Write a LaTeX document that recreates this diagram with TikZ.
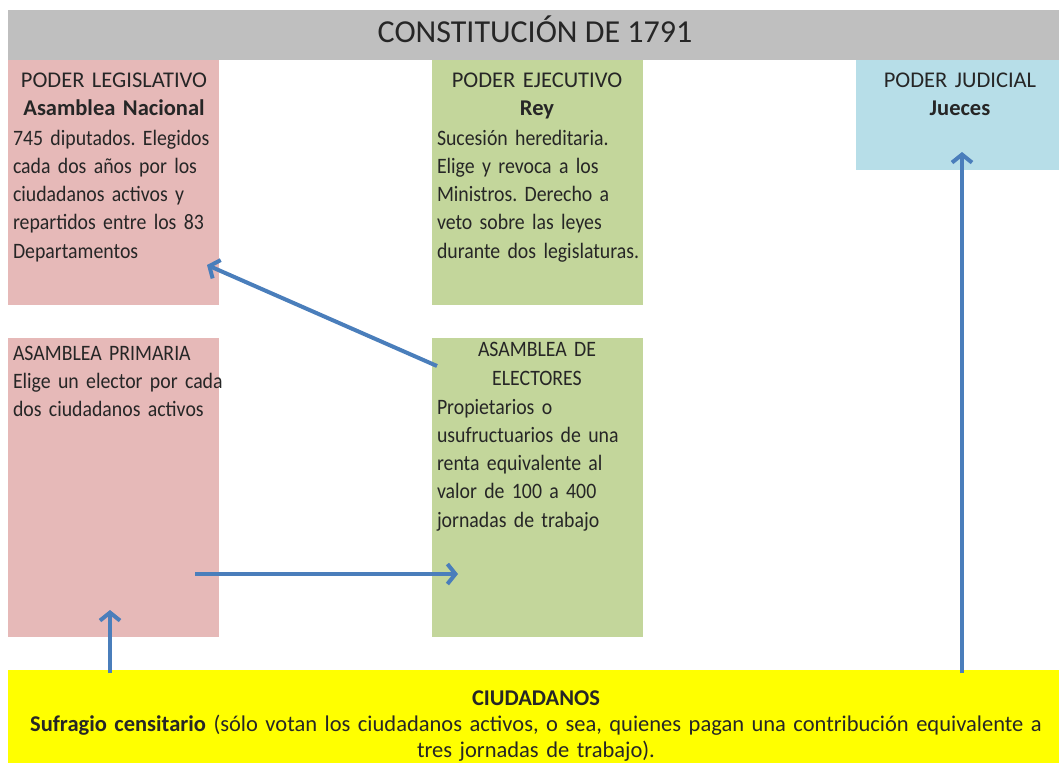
\documentclass[tikz,border=0pt]{standalone}
\usepackage{fontspec}
\setmainfont{Carlito}
\newfontfamily\bodyfont[FakeStretch=0.9, WordSpace=0.8]{Carlito}
\usetikzlibrary{arrows.meta}
\definecolor{grayc}{HTML}{BFBFBF}
\definecolor{redc}{HTML}{E6B9B8}
\definecolor{greenc}{HTML}{C3D69B}
\definecolor{bluec}{HTML}{B7DEE8}
\definecolor{yellowc}{HTML}{FFFF00}
\definecolor{arrc}{HTML}{4A7EBB}
\definecolor{txtc}{HTML}{262626}
\tikzset{
  box/.style={draw=none, inner sep=0pt, outer sep=0pt, anchor=north west},
  txt/.style={inner sep=0pt, outer sep=0pt, text=txtc},
  ctxt/.style={txt, anchor=base, align=center, text width=240pt, font=\fontsize{22.5}{28.5}\selectfont},
  cbtxt/.style={txt, anchor=base, align=center, text width=240pt, font=\bodyfont\frenchspacing\fontsize{22}{29}\selectfont},
  ltxt/.style={txt, anchor=base west, align=left, text width=260pt, font=\bodyfont\frenchspacing\fontsize{22}{28.3}\selectfont},
  conn/.style={draw=arrc, line width=4pt, -{Straight Barb[length=8pt,width=20pt]}},
}
\begin{document}
\begin{tikzpicture}[x=1pt,y=-1pt]
\useasboundingbox[fill=white] (0,0) rectangle (1059,763);
% title bar
\node[box, fill=grayc, minimum width=1051pt, minimum height=50pt] (title) at (8,10) {};
\node[txt, anchor=base, font=\fontsize{32}{38}\selectfont] (titletxt) at (535,42) {CONSTITUCIÓN DE 1791};
% boxes
\node[box, fill=redc, minimum width=211pt, minimum height=245pt] (leg) at (8,60) {};
\node[box, fill=greenc, minimum width=211pt, minimum height=245pt] (eje) at (432,60) {};
\node[box, fill=bluec, minimum width=203pt, minimum height=110pt] (jud) at (856,60) {};
\node[box, fill=redc, minimum width=211pt, minimum height=299pt] (pri) at (8,338) {};
\node[box, fill=greenc, minimum width=211pt, minimum height=299pt] (ele) at (432,338) {};
\node[box, fill=yellowc, minimum width=1051pt, minimum height=93pt] (ciu) at (8,670) {};
% texts
\node[ctxt] (legh) at (114,87) {PODER LEGISLATIVO\\\textbf{Asamblea Nacional}};
\node[ltxt] (legb) at (13,145) {745 diputados. Elegidos\\cada dos años por los\\ciudadanos activos y\\repartidos entre los 83\\Departamentos};
\node[ctxt] (ejeh) at (537,87) {PODER EJECUTIVO\\\textbf{Rey}};
\node[ltxt] (ejeb) at (437,145) {Sucesión hereditaria.\\Elige y revoca a los\\Ministros. Derecho a\\veto sobre las leyes\\durante dos legislaturas.};
\node[ctxt] (judh) at (960,87) {PODER JUDICIAL\\\textbf{Jueces}};
\node[ltxt] (prib) at (13,360) {ASAMBLEA PRIMARIA\\Elige un elector por cada\\dos ciudadanos activos};
\node[cbtxt] (eleh) at (537,356) {ASAMBLEA DE\\ELECTORES};
\node[ltxt] (eleb) at (437,414) {Propietarios o\\usufructuarios de una\\renta equivalente al\\valor de 100 a 400\\jornadas de trabajo};
\node[txt, anchor=base, align=center, text width=1100pt, font=\fontsize{22.5}{26}\selectfont] (ciut) at (536,705)
  {\textbf{CIUDADANOS}\\\textbf{Sufragio censitario} (sólo votan los ciudadanos activos, o sea, quienes pagan una contribución equivalente a\\tres jornadas de trabajo).};
% connector end points
\coordinate (a1s) at (437,366);
\coordinate (a1e) at (207,265);
\coordinate (a2s) at (195,574);
\coordinate (a2e) at (458,574);
\coordinate (a3s) at (110,673);
\coordinate (a3e) at (110,610);
\coordinate (a4s) at (962,673);
\coordinate (a4e) at (962,152);
\draw[conn] (a1s) -- (a1e);
\draw[conn] (a2s) -- (a2e);
\draw[conn] (a3s) -- (a3e);
\draw[conn] (a4s) -- (a4e);
\end{tikzpicture}
\end{document}
